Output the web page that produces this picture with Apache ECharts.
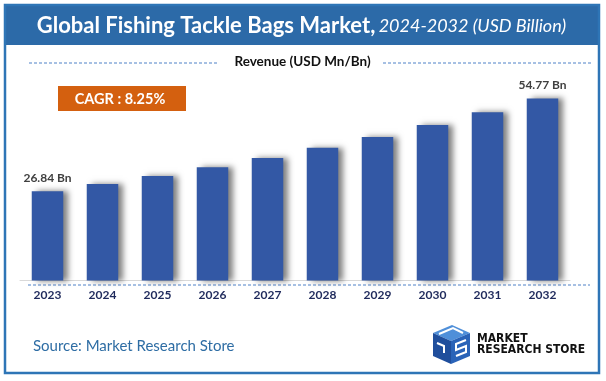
<!DOCTYPE html>
<html><head><meta charset="utf-8">
<script src="https://cdn.jsdelivr.net/npm/echarts@6/dist/echarts.min.js"></script>
<style>html,body{margin:0;padding:0;background:#fff}#c{width:606px;height:381px}</style>
</head><body><div id="c"></div>
<script>
var years = ['2023','2024','2025','2026','2027','2028','2029','2030','2031','2032'];
var revenue = [26.84, 29.05, 31.45, 34.05, 36.86, 39.90, 43.19, 46.75, 50.61, 54.77];
var titleMain = 'Global Fishing Tackle Bags Market,';
var titleSub = '2024-2032 (USD Billion)';
var subtitle = 'Revenue (USD Mn/Bn)';
var cagrText = 'CAGR : 8.25%';
var sourceText = 'Source: Market Research Store';

var chart = echarts.init(document.getElementById('c'), null, {renderer:'canvas'});
var font = 'Lato, "Open Sans", sans-serif';
var dashBlue = '#4F81C7';
chart.setOption({
  animation:false,
  grid:{left:20, right:36, top:81, bottom:100.5},
  xAxis:{type:'category', data:years,
    axisLine:{lineStyle:{color:'#D9D9D9', width:1}},
    axisTick:{show:false},
    axisLabel:{color:'#1F2A5C', fontWeight:'bold', fontSize:12, fontFamily:font, margin:9}},
  yAxis:{type:'value', min:0, max:60, show:false, splitLine:{show:false}},
  series:[{type:'bar', data:revenue, barWidth:31.5,
    itemStyle:{color:'#3358A5', shadowColor:'rgba(0,0,0,0.5)', shadowBlur:6, shadowOffsetX:5, shadowOffsetY:0},
    label:{show:true, position:'top', distance:7, color:'#404040', fontWeight:'bold', fontSize:12, fontFamily:font,
      formatter:function(p){return (p.dataIndex===0||p.dataIndex===revenue.length-1)? p.value.toFixed(2)+' Bn' : '';}}
  }],
  graphic:[
    {type:'rect', shape:{x:5, y:5, width:594, height:368}, style:{fill:'none', stroke:'#2E75B6', lineWidth:2.5}, z:10},
    {type:'rect', shape:{x:5, y:5, width:594, height:40}, style:{fill:'#2C6AA8'}, z:9},
    {type:'text', x:301.5, y:26, style:{text:'{b|'+titleMain+'} {i|'+titleSub+'}', align:'center', verticalAlign:'middle',
      rich:{b:{fontSize:22, fontWeight:'bold', fill:'#fff', fontFamily:font},
            i:{fontSize:18, fontStyle:'italic', fill:'#fff', fontFamily:font}}}, z:11},
    {type:'line', shape:{x1:29, y1:63, x2:219, y2:63}, style:{stroke:dashBlue, lineWidth:1, lineDash:[3,2]}},
    {type:'line', shape:{x1:383, y1:63, x2:591, y2:63}, style:{stroke:dashBlue, lineWidth:1, lineDash:[3,2]}},
    {type:'text', x:302.5, y:62, style:{text:subtitle, align:'center', verticalAlign:'middle', fontSize:13.5, fontWeight:'bold', fill:'#111', fontFamily:font}},
    {type:'rect', shape:{x:58, y:86, width:128, height:25}, style:{fill:'#D4600F'}},
    {type:'text', x:120, y:99, style:{text:cagrText, align:'center', verticalAlign:'middle', fontSize:14.5, fontWeight:'bold', fill:'#fff', fontFamily:font}},
    {type:'line', shape:{x1:28, y1:285, x2:590, y2:285}, style:{stroke:dashBlue, lineWidth:1, lineDash:[3,2]}},
    {type:'text', x:33, y:346, style:{text:sourceText, align:'left', verticalAlign:'middle', fontSize:15, fill:'#2E6DA4', fontFamily:font}},
    // logo icon
    {type:'polygon', shape:{points:[[433,333],[452,325],[470,333],[451,341]]}, style:{fill:'#4F8FD9'}},
    {type:'polygon', shape:{points:[[433,333],[451,341],[451,364],[433,356]]}, style:{fill:'#1F4E9C'}},
    {type:'polygon', shape:{points:[[451,341],[470,333],[470,356],[451,364]]}, style:{fill:'#2A63B8'}},
    {type:'polyline', shape:{points:[[439,334],[453,328],[463,333]]}, style:{stroke:'#fff', lineWidth:2, fill:'none'}},
    {type:'polyline', shape:{points:[[437,343],[444,346],[444,353]]}, style:{stroke:'#fff', lineWidth:2, fill:'none'}},
    {type:'polyline', shape:{points:[[466,340],[456,344],[456,350],[466,346],[466,352],[456,356]]}, style:{stroke:'#fff', lineWidth:2, fill:'none'}},
    {type:'text', x:477, y:339, style:{text:'MARKET', align:'left', verticalAlign:'middle', fontSize:12, fontWeight:'bold', fill:'#111', fontFamily:'"Liberation Sans Narrow", "DejaVu Sans Condensed", sans-serif'}},
    {type:'text', x:477, y:349.5, style:{text:'RESEARCH STORE', align:'left', verticalAlign:'middle', fontSize:12, fontWeight:'bold', fill:'#111', fontFamily:'"Liberation Sans Narrow", "DejaVu Sans Condensed", sans-serif'}}
  ]
});
</script></body></html>
